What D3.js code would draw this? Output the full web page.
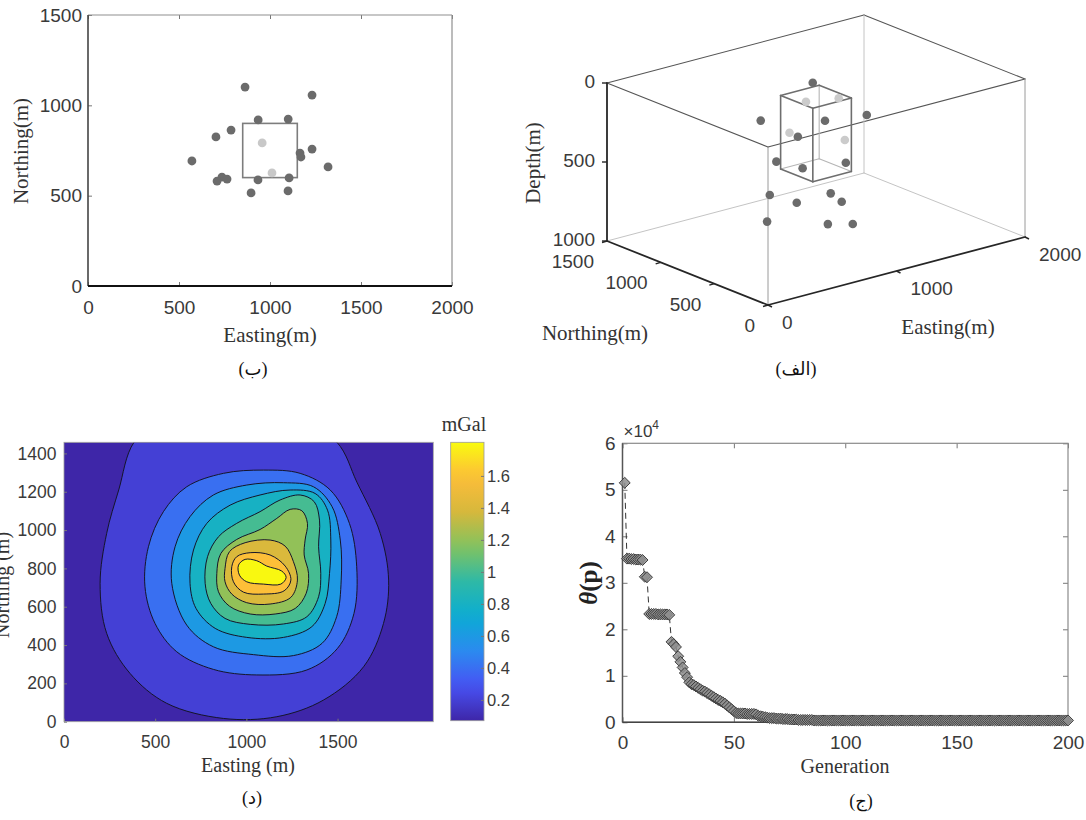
<!DOCTYPE html>
<html>
<head>
<meta charset="utf-8">
<script src="https://cdn.jsdelivr.net/npm/d3@7"></script>
<style>
body { margin: 0; background: #fff; }
svg { display: block; }
</style>
</head>
<body>
<svg width="1086" height="820"></svg>
<script>
var svg = d3.select("svg");

var sans = "'Liberation Sans', Arial, sans-serif";
var serif = "'Liberation Serif', 'Times New Roman', serif";
var arabic = "'Liberation Serif', 'DejaVu Sans', serif";
var tickColor = "#3a3a3a";
var intFmt = d3.format("d");

// ---- (ب) plan view of the particles ----
var planEast  = [863, 1231, 935, 1100, 786, 703, 957, 1165, 1170, 1231, 571, 1319, 1011, 736, 709, 764, 934, 1105, 896, 1099];
var planNorth = [1101, 1057, 919, 924, 863, 825, 792, 736, 714, 758, 692, 659, 626, 603, 581, 592, 587, 598, 515, 526];
var planLight = [0, 0, 0, 0, 0, 0, 1, 0, 0, 0, 0, 0, 1, 0, 0, 0, 0, 0, 0, 0];
var bodyEast  = [850, 1150];
var bodyNorth = [600, 900];
var bodyDepth = [100, 565];
var planXTicks = [0, 500, 1000, 1500, 2000];
var planYTicks = [0, 500, 1000, 1500];

// ---- (الف) 3D view of the same particles ----
var ptEast  = [1231, 957, 1165, 863, 934, 1319, 935, 736, 1231, 786, 764, 1105, 703, 1011, 709, 1170, 571, 896, 1099];
var ptNorth = [1057, 792, 736, 1101, 587, 659, 919, 603, 758, 863, 592, 598, 825, 626, 581, 714, 692, 515, 526];
var ptDepth = [144, 133, 141, 316, 193, 259, 359, 256, 425, 495, 459, 499, 678, 680, 662, 791, 782, 820, 866];
var ptLight = [0, 1, 1, 0, 0, 0, 1, 0, 1, 0, 0, 0, 0, 0, 0, 0, 0, 0, 0];
var depthTicks = [0, 500, 1000];
var northTicks = [0, 500, 1000, 1500];
var eastTicks  = [0, 1000, 2000];

// ---- (د) gravity anomaly contours, [easting, northing] per level ----
var levels = [0.2, 0.4, 0.6, 0.8, 1.0, 1.2, 1.4, 1.6, 1.8];
var line02 = [[198,722],[234,983],[300,1209],[385,1460],[600,1625],[900,1690],[1200,1635],[1495,1460],[1606,1250],[1734,983],[1780,739],[1752,513],[1643,287],[1423,113],[1167,26],[874,17],[563,96],[362,252],[234,461]];
var line04 = [[444,704],[463,913],[545,1096],[673,1226],[874,1296],[1094,1313],[1295,1296],[1460,1209],[1565,1035],[1605,809],[1590,565],[1500,383],[1332,270],[1057,244],[819,273],[618,365],[499,513]];
var line06 = [[591,722],[609,913],[691,1070],[819,1183],[1002,1235],[1204,1247],[1368,1226],[1470,1122],[1515,948],[1520,739],[1495,548],[1415,409],[1258,345],[1039,350],[819,391],[673,504]];
var line08 = [[691,722],[710,896],[783,1035],[911,1130],[1075,1183],[1240,1209],[1377,1191],[1445,1104],[1463,948],[1456,774],[1432,617],[1359,496],[1204,440],[1002,440],[829,487],[724,591]];
var line10 = [[774,722],[787,861],[847,965],[947,1035],[1075,1096],[1185,1157],[1295,1183],[1372,1148],[1401,1052],[1396,913],[1408,774],[1396,652],[1332,548],[1204,510],[1021,508],[883,539],[805,617]];
var line12 = [[838,774],[860,878],[947,951],[1075,1003],[1167,1061],[1240,1108],[1304,1101],[1335,1035],[1322,948],[1317,870],[1341,774],[1328,670],[1268,591],[1158,562],[1021,562],[907,603],[847,678]];
var line14 = [[883,800],[907,887],[993,934],[1130,948],[1213,916],[1258,835],[1280,739],[1244,649],[1130,614],[1002,621],[920,666],[883,730]];
var line16 = [[920,809],[947,861],[1021,882],[1130,870],[1213,812],[1244,739],[1207,683],[1094,666],[984,676],[929,730]];
var line18 = [[957,817],[993,847],[1057,840],[1112,812],[1194,786],[1218,753],[1189,718],[1094,718],[1002,730],[962,765]];
var contourLines = [line02, line04, line06, line08, line10, line12, line14, line16, line18];
var gravXTicks = [0, 500, 1000, 1500];
var gravYTicks = [0, 200, 400, 600, 800, 1000, 1200, 1400];
var barTicks = [0.2, 0.4, 0.6, 0.8, 1, 1.2, 1.4, 1.6];
var gravRange = [0.07, 1.81];

// ---- (ج) objective value per generation (x 10^4) ----
var theta = [
  5.15,
  3.52, 3.52, 3.51, 3.51, 3.5, 3.5, 3.5, 3.49,
  3.13, 3.12,
  2.33, 2.33, 2.33, 2.33, 2.32, 2.32, 2.32, 2.32, 2.32, 2.31,
  1.73, 1.68, 1.62, 1.42, 1.3, 1.18, 1.06, 0.97, 0.86,
  0.82, 0.8, 0.77, 0.74, 0.71, 0.68, 0.66, 0.63, 0.6, 0.57,
  0.54, 0.51, 0.48, 0.46, 0.43, 0.4, 0.36, 0.32, 0.28, 0.24,
  0.2, 0.19, 0.19, 0.19, 0.19, 0.18, 0.18, 0.18, 0.18, 0.17,
  0.14, 0.13, 0.12, 0.11, 0.1, 0.09, 0.09, 0.09, 0.08, 0.08,
  0.08, 0.07, 0.07, 0.07, 0.06, 0.06, 0.06, 0.06, 0.05, 0.05,
  0.05, 0.05, 0.05, 0.05, 0.05, 0.04, 0.04, 0.04, 0.04, 0.04,
  0.04, 0.04, 0.04, 0.04, 0.04, 0.04, 0.04, 0.04, 0.04, 0.04,
  0.04, 0.04, 0.04, 0.04, 0.04, 0.04, 0.04, 0.04, 0.04, 0.04,
  0.04, 0.04, 0.04, 0.04, 0.04, 0.04, 0.04, 0.04, 0.04, 0.04,
  0.04, 0.04, 0.04, 0.04, 0.04, 0.04, 0.04, 0.04, 0.04, 0.04,
  0.04, 0.04, 0.04, 0.04, 0.04, 0.04, 0.04, 0.04, 0.04, 0.04,
  0.04, 0.04, 0.04, 0.04, 0.04, 0.04, 0.04, 0.04, 0.04, 0.04,
  0.04, 0.04, 0.04, 0.04, 0.04, 0.04, 0.04, 0.04, 0.04, 0.04,
  0.04, 0.04, 0.04, 0.04, 0.04, 0.04, 0.04, 0.04, 0.04, 0.04,
  0.04, 0.04, 0.04, 0.04, 0.04, 0.04, 0.04, 0.04, 0.04, 0.04,
  0.04, 0.04, 0.04, 0.04, 0.04, 0.04, 0.04, 0.04, 0.04, 0.04,
  0.04, 0.04, 0.04, 0.04, 0.04, 0.04, 0.04, 0.04, 0.04, 0.04
];
var genXTicks = [0, 50, 100, 150, 200];
var genYTicks = [0, 1, 2, 3, 4, 5, 6];

var captions = ["(ب)", "(الف)", "(د)", "(ج)"];

// parula-like colormap
var parula = d3.scaleLinear()
  .domain([0, 0.125, 0.25, 0.375, 0.5, 0.625, 0.75, 0.875, 1])
  .range(["#3e26a8", "#4852f4", "#2b8aef", "#0bacd3", "#2eb9a6", "#82c35f", "#d6b83c", "#fdbd3a", "#f9fb0e"])
  .interpolate(d3.interpolateRgb);

function styleAxis(g, size, family) {
  g.select(".domain").remove();
  g.selectAll(".tick line").attr("stroke", "#777");
  g.selectAll(".tick text").attr("font-size", size).attr("font-family", family || sans).attr("fill", tickColor);
}

// ================= panel (ب) =================
var x1 = d3.scaleLinear().domain([0, 2000]).range([88, 452]);
var y1 = d3.scaleLinear().domain([0, 1500]).range([286, 15]);
var p1 = svg.append("g");

p1.append("g").attr("transform", "translate(0," + y1(0) + ")")
  .call(d3.axisBottom(x1).tickValues(planXTicks).tickFormat(intFmt).tickSizeInner(-4).tickSizeOuter(0).tickPadding(15))
  .call(styleAxis, 19);
p1.append("g").attr("transform", "translate(" + x1(0) + ",0)")
  .call(d3.axisLeft(y1).tickValues(planYTicks).tickFormat(intFmt).tickSizeInner(-4).tickSizeOuter(0).tickPadding(6))
  .call(styleAxis, 19);
p1.append("g").attr("transform", "translate(0," + y1(1500) + ")")
  .call(d3.axisTop(x1).tickValues(planXTicks).tickSizeInner(-4).tickSizeOuter(0).tickFormat(""))
  .call(styleAxis, 19);

p1.append("line").attr("x1", x1(0)).attr("x2", x1(2000)).attr("y1", y1(1500)).attr("y2", y1(1500)).attr("stroke", "#8f8f8f").attr("stroke-width", 1.2);
p1.append("line").attr("x1", x1(2000)).attr("x2", x1(2000)).attr("y1", y1(0)).attr("y2", y1(1500)).attr("stroke", "#8f8f8f").attr("stroke-width", 1.2);
p1.append("line").attr("x1", x1(0)).attr("x2", x1(0)).attr("y1", y1(0)).attr("y2", y1(1500)).attr("stroke", "#444").attr("stroke-width", 1.6);
p1.append("line").attr("x1", x1(0)).attr("x2", x1(2000)).attr("y1", y1(0)).attr("y2", y1(0)).attr("stroke", "#111").attr("stroke-width", 2.2);

p1.append("rect")
  .attr("x", x1(bodyEast[0])).attr("y", y1(bodyNorth[1]))
  .attr("width", x1(bodyEast[1]) - x1(bodyEast[0]))
  .attr("height", y1(bodyNorth[0]) - y1(bodyNorth[1]))
  .attr("fill", "none").attr("stroke", "#7d7d7d").attr("stroke-width", 1.6);

p1.selectAll("circle.pt").data(planEast).join("circle")
  .attr("class", "pt")
  .attr("cx", function(d) { return x1(d); })
  .attr("cy", function(d, i) { return y1(planNorth[i]); })
  .attr("r", 4.4)
  .attr("fill", function(d, i) { return planLight[i] ? "#c8c8c8" : "#6b6b6b"; });

p1.append("text").attr("x", 270).attr("y", 342).attr("text-anchor", "middle")
  .attr("font-family", serif).attr("font-size", 21).attr("fill", "#333").text("Easting(m)");
p1.append("text").attr("transform", "translate(28,151) rotate(-90)").attr("text-anchor", "middle")
  .attr("font-family", serif).attr("font-size", 21).attr("fill", "#333").text("Northing(m)");

// ================= panel (الف) 3D =================
var ox = 768, oy = 305;
var eX = d3.scaleLinear().domain([0, 2000]).range([0, 257]);
var eY = d3.scaleLinear().domain([0, 2000]).range([0, -68]);
var nX = d3.scaleLinear().domain([0, 1500]).range([0, -161]);
var nY = d3.scaleLinear().domain([0, 1500]).range([0, -64]);
var dY = d3.scaleLinear().domain([0, 1000]).range([-158, 0]);
function proj(e, n, d) {
  return [ox + eX(e) + nX(n), oy + eY(e) + nY(n) + dY(d)];
}
var p2 = svg.append("g");
var E0 = 0, E1 = 2000, N0 = 0, N1 = 1500, D0 = 0, D1 = 1000;
var boxEdges = [
  [[E0,N1,D0],[E1,N1,D0],"top"], [[E1,N1,D0],[E1,N0,D0],"top"],
  [[E1,N0,D0],[E0,N0,D0],"top"], [[E0,N0,D0],[E0,N1,D0],"top"],
  [[E0,N0,D0],[E0,N0,D1],"mid"], [[E1,N0,D0],[E1,N0,D1],"mid"],
  [[E1,N1,D0],[E1,N1,D1],"back"], [[E0,N1,D1],[E1,N1,D1],"back"], [[E1,N1,D1],[E1,N0,D1],"back"],
  [[E0,N1,D0],[E0,N1,D1],"axis"], [[E0,N1,D1],[E0,N0,D1],"axis"], [[E0,N0,D1],[E1,N0,D1],"axis"]
];
var edgeStyle = {
  top:  { c: "#555", w: 1.1 },
  mid:  { c: "#9a9a9a", w: 1 },
  back: { c: "#c4c4c4", w: 1 },
  axis: { c: "#262626", w: 1.8 },
  pfront: { c: "#6e6e6e", w: 1.6 },
  pback: { c: "#b5b5b5", w: 1.1 }
};
function drawEdges(g, edges) {
  edges.forEach(function(ed) {
    var a = proj.apply(null, ed[0]), b = proj.apply(null, ed[1]);
    g.append("line").attr("x1", a[0]).attr("y1", a[1]).attr("x2", b[0]).attr("y2", b[1])
      .attr("stroke", edgeStyle[ed[2]].c).attr("stroke-width", edgeStyle[ed[2]].w)
      .attr("stroke-linecap", "round");
  });
}
drawEdges(p2, boxEdges);

// axis ticks and labels
depthTicks.forEach(function(d) {
  var p = proj(E0, N1, d);
  p2.append("line").attr("x1", p[0] - 5).attr("x2", p[0]).attr("y1", p[1]).attr("y2", p[1]).attr("stroke", "#262626").attr("stroke-width", 1.4);
  p2.append("text").attr("x", 595).attr("y", p[1] - 1.5).attr("dy", "0.35em").attr("text-anchor", "end")
    .attr("font-family", sans).attr("font-size", 19).attr("fill", tickColor).text(d);
});
northTicks.forEach(function(n) {
  var p = proj(E0, n, D1);
  p2.append("line").attr("x1", p[0]).attr("y1", p[1]).attr("x2", p[0] - 5).attr("y2", p[1] + 1.5).attr("stroke", "#262626").attr("stroke-width", 1.4);
  p2.append("text").attr("x", p[0] - 13).attr("y", p[1] + 20.5).attr("dy", "0.35em").attr("text-anchor", "end")
    .attr("font-family", sans).attr("font-size", 19).attr("fill", tickColor).text(n);
});
eastTicks.forEach(function(e) {
  var p = proj(e, N0, D1);
  p2.append("line").attr("x1", p[0]).attr("y1", p[1]).attr("x2", p[0] + 4).attr("y2", p[1] + 2).attr("stroke", "#262626").attr("stroke-width", 1.4);
  p2.append("text").attr("x", p[0] + 14).attr("y", p[1] + 17).attr("dy", "0.35em").attr("text-anchor", "start")
    .attr("font-family", sans).attr("font-size", 19).attr("fill", tickColor).text(e);
});

// prism
var bE0 = bodyEast[0], bE1 = bodyEast[1], bN0 = bodyNorth[0], bN1 = bodyNorth[1], bD0 = bodyDepth[0], bD1 = bodyDepth[1];
var prismEdges = [
  [[bE1,bN1,bD1],[bE0,bN1,bD1],"pback"], [[bE1,bN1,bD1],[bE1,bN0,bD1],"pback"], [[bE1,bN1,bD1],[bE1,bN1,bD0],"pback"],
  [[bE0,bN0,bD0],[bE1,bN0,bD0],"pfront"], [[bE1,bN0,bD0],[bE1,bN1,bD0],"pfront"],
  [[bE1,bN1,bD0],[bE0,bN1,bD0],"pfront"], [[bE0,bN1,bD0],[bE0,bN0,bD0],"pfront"],
  [[bE0,bN0,bD0],[bE0,bN0,bD1],"pfront"], [[bE1,bN0,bD0],[bE1,bN0,bD1],"pfront"], [[bE0,bN1,bD0],[bE0,bN1,bD1],"pfront"],
  [[bE0,bN0,bD1],[bE1,bN0,bD1],"pfront"], [[bE0,bN0,bD1],[bE0,bN1,bD1],"pfront"]
];
drawEdges(p2, prismEdges);

p2.selectAll("circle.pt").data(ptEast).join("circle")
  .attr("class", "pt")
  .attr("cx", function(d, i) { return proj(d, ptNorth[i], ptDepth[i])[0]; })
  .attr("cy", function(d, i) { return proj(d, ptNorth[i], ptDepth[i])[1]; })
  .attr("r", 4.3)
  .attr("fill", function(d, i) { return ptLight[i] ? "#cbcbcb" : "#6b6b6b"; });

p2.append("text").attr("transform", "translate(540,163) rotate(-90)").attr("text-anchor", "middle")
  .attr("font-family", serif).attr("font-size", 21).attr("fill", "#333").text("Depth(m)");
p2.append("text").attr("x", 595).attr("y", 340).attr("text-anchor", "middle")
  .attr("font-family", serif).attr("font-size", 21).attr("fill", "#333").text("Northing(m)");
p2.append("text").attr("x", 948).attr("y", 334).attr("text-anchor", "middle")
  .attr("font-family", serif).attr("font-size", 21).attr("fill", "#333").text("Easting(m)");

// ================= panel (د) contours =================
var cx = d3.scaleLinear().domain([0, 2025]).range([64, 433.3]);
var cy = d3.scaleLinear().domain([0, 1458]).range([721.7, 442.3]);
var tScale = d3.scaleLinear().domain(gravRange).range([0, 1]);
var p3 = svg.append("g");
var defs = svg.append("defs");
defs.append("clipPath").attr("id", "gravClip").append("rect")
  .attr("x", cx(0)).attr("y", cy(1458)).attr("width", cx(2025) - cx(0)).attr("height", cy(0) - cy(1458));

var bandLine = d3.line().x(function(d) { return cx(d[0]); }).y(function(d) { return cy(d[1]); })
  .curve(d3.curveCatmullRomClosed.alpha(0.5));
var cg = p3.append("g").attr("clip-path", "url(#gravClip)");
cg.append("rect").attr("x", cx(0)).attr("y", cy(1458)).attr("width", cx(2025) - cx(0)).attr("height", cy(0) - cy(1458))
  .attr("fill", parula(0));
cg.selectAll("path.band").data(contourLines).join("path")
  .attr("class", "band")
  .attr("d", function(d) { return bandLine(d); })
  .attr("fill", function(d, i) { return parula(tScale(levels[i])); })
  .attr("stroke", "#15152a").attr("stroke-width", 1);

p3.append("g").attr("transform", "translate(0," + cy(0) + ")")
  .call(d3.axisBottom(cx).tickValues(gravXTicks).tickFormat(intFmt).tickSizeInner(-3).tickSizeOuter(0).tickPadding(14))
  .call(styleAxis, 17.5);
p3.append("g").attr("transform", "translate(" + cx(0) + ",0)")
  .call(d3.axisLeft(cy).tickValues(gravYTicks).tickFormat(intFmt).tickSizeInner(-3).tickSizeOuter(0).tickPadding(7.5))
  .call(styleAxis, 17.5);
p3.append("rect").attr("x", cx(0)).attr("y", cy(1458)).attr("width", cx(2025) - cx(0)).attr("height", cy(0) - cy(1458))
  .attr("fill", "none").attr("stroke", "#9a9a9a").attr("stroke-width", 0.8);

p3.append("text").attr("x", 248).attr("y", 765).attr("dy", "0.35em").attr("text-anchor", "middle")
  .attr("font-family", serif).attr("font-size", 20).attr("fill", "#333").text("Easting (m)");
p3.append("text").attr("transform", "translate(9,585) rotate(-90)").attr("text-anchor", "middle")
  .attr("font-family", serif).attr("font-size", 20).attr("fill", "#333").text("Northing (m)");

// colorbar
var by = d3.scaleLinear().domain(gravRange).range([720.7, 442.3]);
var grad = defs.append("linearGradient").attr("id", "parulaGrad")
  .attr("x1", 0).attr("y1", 1).attr("x2", 0).attr("y2", 0);
grad.selectAll("stop").data(d3.range(0, 1.0001, 0.05)).join("stop")
  .attr("offset", function(d) { return d; })
  .attr("stop-color", function(d) { return parula(d); });
p3.append("rect").attr("x", 450.7).attr("y", by(gravRange[1])).attr("width", 33.3)
  .attr("height", by(gravRange[0]) - by(gravRange[1]))
  .attr("fill", "url(#parulaGrad)").attr("stroke", "#9a9a9a").attr("stroke-width", 0.8);
p3.append("g").attr("transform", "translate(484,0)")
  .call(d3.axisRight(by).tickValues(barTicks).tickFormat(d3.format("~g")).tickSizeInner(-3).tickSizeOuter(0).tickPadding(3))
  .call(styleAxis, 16.5);
p3.append("text").attr("x", 464).attr("y", 424).attr("dy", "0.35em").attr("text-anchor", "middle")
  .attr("font-family", serif).attr("font-size", 20).attr("fill", "#333").text("mGal");

// ================= panel (ج) convergence =================
var gx = d3.scaleLinear().domain([0, 200]).range([622.5, 1068]);
var gy = d3.scaleLinear().domain([0, 6]).range([722.3, 443.3]);
var p4 = svg.append("g");

p4.append("g").attr("transform", "translate(0," + gy(0) + ")")
  .call(d3.axisBottom(gx).tickValues(genXTicks).tickFormat(intFmt).tickSizeInner(-5).tickSizeOuter(0).tickPadding(13))
  .call(styleAxis, 19);
p4.append("g").attr("transform", "translate(" + gx(0) + ",0)")
  .call(d3.axisLeft(gy).tickValues(genYTicks).tickFormat(intFmt).tickSizeInner(-5).tickSizeOuter(0).tickPadding(7))
  .call(styleAxis, 19);
p4.append("g").attr("transform", "translate(0," + gy(6) + ")")
  .call(d3.axisTop(gx).tickValues(genXTicks).tickSizeInner(-5).tickSizeOuter(0).tickFormat(""))
  .call(styleAxis, 19);
p4.append("g").attr("transform", "translate(" + gx(200) + ",0)")
  .call(d3.axisRight(gy).tickValues(genYTicks).tickSizeInner(-5).tickSizeOuter(0).tickFormat(""))
  .call(styleAxis, 19);
p4.append("rect").attr("x", gx(0)).attr("y", gy(6)).attr("width", gx(200) - gx(0)).attr("height", gy(0) - gy(6))
  .attr("fill", "none").attr("stroke", "#8a8a8a").attr("stroke-width", 1.2);
p4.append("line").attr("x1", gx(0)).attr("x2", gx(0)).attr("y1", gy(0)).attr("y2", gy(6)).attr("stroke", "#555").attr("stroke-width", 1.4);
p4.append("line").attr("x1", gx(0)).attr("x2", gx(200)).attr("y1", gy(0)).attr("y2", gy(0)).attr("stroke", "#444").attr("stroke-width", 1.6);

var thetaLine = d3.line().x(function(d, i) { return gx(i + 1); }).y(function(d) { return gy(d); });
p4.append("path").attr("d", thetaLine(theta)).attr("fill", "none")
  .attr("stroke", "#333").attr("stroke-width", 1).attr("stroke-dasharray", "6,4");
var diamond = d3.symbol().type(d3.symbolSquare).size(60);
p4.selectAll("path.mk").data(theta).join("path")
  .attr("class", "mk")
  .attr("d", diamond)
  .attr("transform", function(d, i) { return "translate(" + gx(i + 1) + "," + gy(d) + ") rotate(45)"; })
  .attr("fill", "#8e8e8e").attr("fill-opacity", 0.85)
  .attr("stroke", "#3a3a3a").attr("stroke-width", 0.9);

var sci = p4.append("text").attr("x", gx(0) + 1).attr("y", 437)
  .attr("font-family", sans).attr("font-size", 17).attr("fill", tickColor);
sci.append("tspan").text("\u00d710");
sci.append("tspan").attr("dy", -8).attr("font-size", 12).text("4");

var yl = p4.append("text").attr("transform", "translate(597,583) rotate(-90)").attr("text-anchor", "middle")
  .attr("font-family", serif).attr("font-size", 25).attr("font-weight", "bold").attr("fill", "#222");
yl.append("tspan").attr("font-style", "italic").text("\u03b8");
yl.append("tspan").text("(p)");
p4.append("text").attr("x", 845).attr("y", 766).attr("dy", "0.35em").attr("text-anchor", "middle")
  .attr("font-family", serif).attr("font-size", 20).attr("fill", "#333").text("Generation");

// ================= captions =================
var capPos = [[253, 369], [796, 369], [252, 798], [861, 801]];
svg.selectAll("text.cap").data(captions).join("text")
  .attr("class", "cap")
  .attr("x", function(d, i) { return capPos[i][0]; })
  .attr("y", function(d, i) { return capPos[i][1]; })
  .attr("dy", "0.35em")
  .attr("text-anchor", "middle")
  .attr("font-family", arabic).attr("font-size", 18).attr("fill", "#111")
  .text(function(d) { return d; });
</script>
</body>
</html>
